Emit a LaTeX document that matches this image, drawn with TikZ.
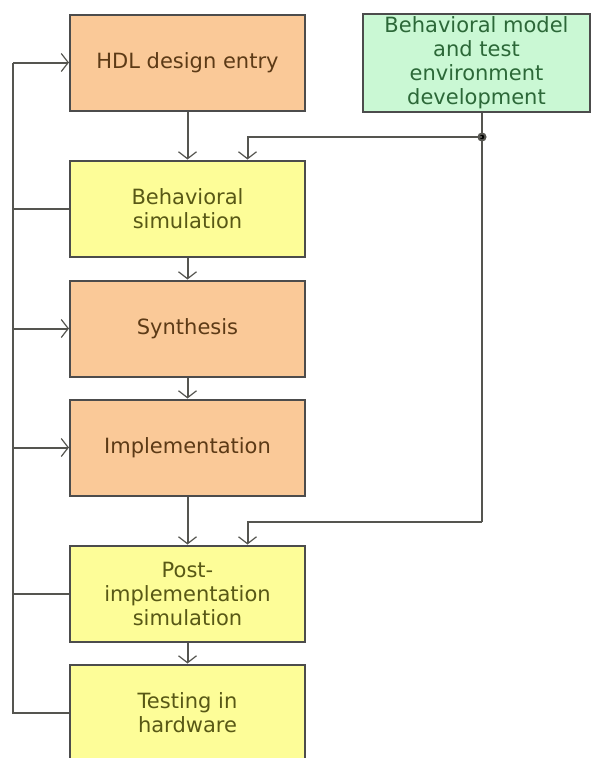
\documentclass[tikz,border=0pt]{standalone}
\usepackage{fontspec}
\setmainfont{DejaVu Sans}
\usepackage{xcolor}
\usetikzlibrary{positioning,arrows.meta}

\definecolor{implfill}{RGB}{250,201,152}
\definecolor{simfill}{RGB}{253,253,152}
\definecolor{tbfill}{RGB}{202,248,212}
\definecolor{impltext}{RGB}{92,58,22}
\definecolor{simtext}{RGB}{88,88,22}
\definecolor{tbtext}{RGB}{44,104,56}
\definecolor{wire}{RGB}{85,85,80}

\tikzset{
  box/.style={draw=black!70, line width=2pt, minimum width=235pt, minimum height=96pt,
    align=center, inner sep=1pt, font=\fontsize{21}{24}\selectfont},
  implbox/.style={box, fill=implfill, text=impltext},
  simbox/.style={box, fill=simfill, text=simtext},
  tbbox/.style={box, fill=tbfill, text=tbtext, minimum width=227pt, minimum height=98pt},
  wire/.style={draw=wire, line width=2pt},
  arr/.style={wire, -{Straight Barb[length=7pt,width=18pt,line width=1.2pt]}},
}

\begin{document}
\begin{tikzpicture}[x=1pt,y=1pt]
	\useasboundingbox (0,0) rectangle (591,-758);
	% design flow
	\node [implbox] (hdl) at (187.5,-62.5) {HDL design entry};
	\node [simbox, below=48pt of hdl] (behav) {Behavioral\\simulation};
	\node [implbox, below=22pt of behav] (synth) {Synthesis};
	\node [implbox, below=21pt of synth] (impl) {Implementation};
	\node [simbox, below=48pt of impl] (postsim) {Post-\\implementation\\simulation};
	\node [simbox, below=21pt of postsim] (hwtest) {Testing in\\hardware};
	% testbench
	\node [tbbox] (tbdev) at (476.5,-63) {Behavioral model\\and test\\environment\\development};
	%
	\draw [arr] (hdl) -- (behav);
	\draw [arr] (behav) -- (synth);
	\draw [arr] (synth) -- (impl);
	\draw [arr] (impl) -- (postsim);
	\draw [arr] (postsim) -- (hwtest);
	%
	\coordinate (j) at (482,-137);
	\coordinate (k) at (482,-522);
	\draw [wire] (tbdev.south -| j) -- (j) -- (k);
	\fill [wire] (j) circle (3.5pt);
	\draw [arr] (j) -| ([xshift=60pt]behav.north);
	\draw [arr] (k) -| ([xshift=60pt]postsim.north);
	% feedback bus
	\coordinate (bustop) at (13,-62.5);
	\coordinate (busbot) at (13,-713);
	\draw [wire] (hwtest.west |- busbot) -- (busbot) -- (bustop);
	\draw [arr] (bustop) -- (hdl.west);
	\draw [wire] (behav.west) -- (behav.west -| bustop);
	\draw [arr] (synth.west -| bustop) -- (synth.west);
	\draw [arr] (impl.west -| bustop) -- (impl.west);
	\draw [wire] (postsim.west) -- (postsim.west -| bustop);
\end{tikzpicture}
\end{document}
